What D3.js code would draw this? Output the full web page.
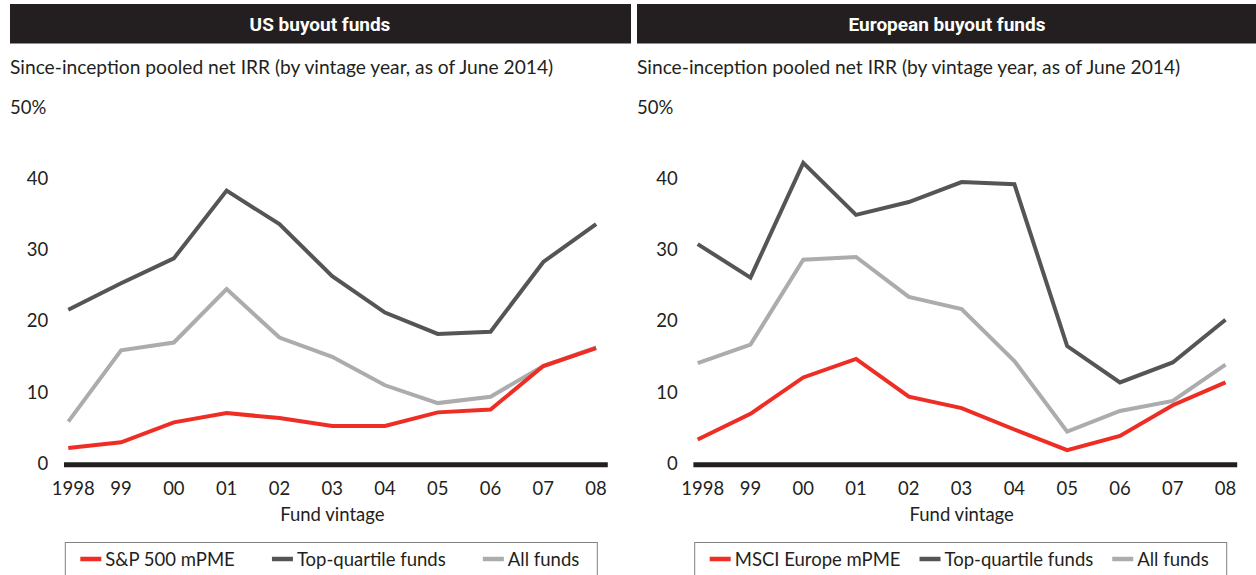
<!DOCTYPE html>
<html lang="en">
<head>
<meta charset="UTF-8">
<title>Buyout funds vs mPME</title>
<script src="https://cdn.jsdelivr.net/npm/d3@7"></script>
<style>
  body { margin: 0; background: #fff; }
  text { font-family: Lato, "Open Sans", sans-serif; fill: #231f20; }
</style>
</head>
<body>
<div id="chart"></div>
<script>
// vintage years shown on the x axis
const vintages = ["1998", "99", "00", "01", "02", "03", "04", "05", "06", "07", "08"];
const yTicks = [0, 10, 20, 30, 40, 50];

// US buyout funds (pooled net IRR, %)
const usIndex = [2.1, 2.9, 5.7, 7.0, 6.3, 5.2, 5.2, 7.1, 7.5, 13.6, 16.1];
const usTop = [21.5, 25.2, 28.7, 38.2, 33.5, 26.2, 21.1, 18.1, 18.4, 28.2, 33.5];
const usAll = [5.8, 15.8, 16.9, 24.4, 17.6, 14.9, 10.9, 8.4, 9.3, 13.6, 16.2];

// European buyout funds (pooled net IRR, %)
const euIndex = [3.3, 6.9, 12.0, 14.6, 9.3, 7.7, 4.7, 1.8, 3.8, 8.1, 11.3];
const euTop = [30.7, 26.0, 42.1, 34.8, 36.6, 39.4, 39.1, 16.4, 11.3, 14.1, 20.1];
const euAll = [14.0, 16.6, 28.5, 28.9, 23.3, 21.6, 14.3, 4.4, 7.3, 8.7, 13.8];

const colors = { index: "#ee2d24", top: "#555555", all: "#abacae" };

const width = 1256, height = 575;
const svg = d3.select("#chart").append("svg")
    .attr("width", width)
    .attr("height", height);

const y = d3.scaleLinear().domain([0, 50]).range([463, 106.5]);

function drawPanel(p) {
  const g = svg.append("g");

  // header bar
  g.append("rect")
      .attr("x", p.left).attr("y", 4)
      .attr("width", 621).attr("height", 39.5)
      .attr("fill", "#231f20");
  g.append("text")
      .attr("x", p.left + 310).attr("y", 24)
      .attr("text-anchor", "middle")
      .attr("dominant-baseline", "central")
      .style("fill", "#fff")
      .style("font-family", "'Liberation Sans Narrow', 'Roboto', sans-serif")
      .style("font-weight", "bold")
      .style("font-size", "19px")
      .text(p.title);

  g.append("text")
      .attr("x", p.left).attr("y", 66)
      .attr("dominant-baseline", "central")
      .style("font-size", "19.2px")
      .text("Since-inception pooled net IRR (by vintage year, as of June 2014)");

  const x = d3.scalePoint().domain(vintages).range([p.x0, p.x0 + 527.8]);

  // y tick labels
  g.selectAll(".ytick").data(yTicks).join("text")
      .attr("class", "ytick")
      .attr("x", d => d === 50 ? p.left : p.x0 - 20)
      .attr("y", d => y(d))
      .attr("text-anchor", d => d === 50 ? "start" : "end")
      .attr("dominant-baseline", "central")
      .style("font-size", "18.5px")
      .text(d => d === 50 ? "50%" : d);

  // x tick labels
  g.selectAll(".xtick").data(vintages).join("text")
      .attr("class", "xtick")
      .attr("x", (d, i) => x(d) + (i === 0 ? 5 : 0))
      .attr("y", 488)
      .attr("text-anchor", "middle")
      .attr("dominant-baseline", "central")
      .style("font-size", "18.5px")
      .text(d => d);

  g.append("text")
      .attr("x", p.x0 + 264).attr("y", 514)
      .attr("text-anchor", "middle")
      .attr("dominant-baseline", "central")
      .style("font-size", "18.5px")
      .text("Fund vintage");

  const line = d3.line()
      .x((d, i) => x(vintages[i]))
      .y(d => y(d));

  const series = [
    { key: "all", values: p.all, label: "All funds" },
    { key: "top", values: p.top, label: "Top-quartile funds" },
    { key: "index", values: p.index, label: p.indexLabel }
  ];

  g.selectAll(".series").data(series).join("path")
      .attr("class", "series")
      .attr("d", d => line(d.values))
      .attr("fill", "none")
      .attr("stroke", d => colors[d.key])
      .attr("stroke-width", 4)
      .attr("stroke-linejoin", "miter");

  // zero line
  g.append("line")
      .attr("x1", p.x0 - 4.3).attr("x2", p.x0 + 539.5)
      .attr("y1", y(0) + 1.7).attr("y2", y(0) + 1.7)
      .attr("stroke", "#231f20")
      .attr("stroke-width", 5);

  // legend
  const boxX = p.x0 - 3, boxW = 532;
  g.append("rect")
      .attr("x", boxX).attr("y", 542.5)
      .attr("width", boxW).attr("height", 60)
      .attr("fill", "none")
      .attr("stroke", "#808080")
      .attr("stroke-width", 1);

  const legendOrder = [series[2], series[1], series[0]];
  const items = g.selectAll(".legend").data(legendOrder).join("g")
      .attr("class", "legend");
  items.append("line")
      .attr("x1", 0).attr("x2", 21)
      .attr("y1", 559).attr("y2", 559)
      .attr("stroke", d => colors[d.key])
      .attr("stroke-width", 4.5);
  items.append("text")
      .attr("x", 25).attr("y", 559)
      .attr("dominant-baseline", "central")
      .style("font-size", "18.5px")
      .text(d => d.label);

  // spread legend items evenly between the box paddings
  const widths = items.nodes().map(n => n.getBBox().width);
  const inner = boxW - 15 - 18;
  const gap = (inner - d3.sum(widths)) / (widths.length - 1);
  let cx = boxX + 15;
  items.attr("transform", (d, i) => {
    const t = `translate(${cx},0)`;
    cx += widths[i] + gap;
    return t;
  });
}

drawPanel({
  left: 10, x0: 68.3, title: "US buyout funds",
  index: usIndex, top: usTop, all: usAll, indexLabel: "S&P 500 mPME"
});
drawPanel({
  left: 637, x0: 697.7, title: "European buyout funds",
  index: euIndex, top: euTop, all: euAll, indexLabel: "MSCI Europe mPME"
});
</script>
</body>
</html>
